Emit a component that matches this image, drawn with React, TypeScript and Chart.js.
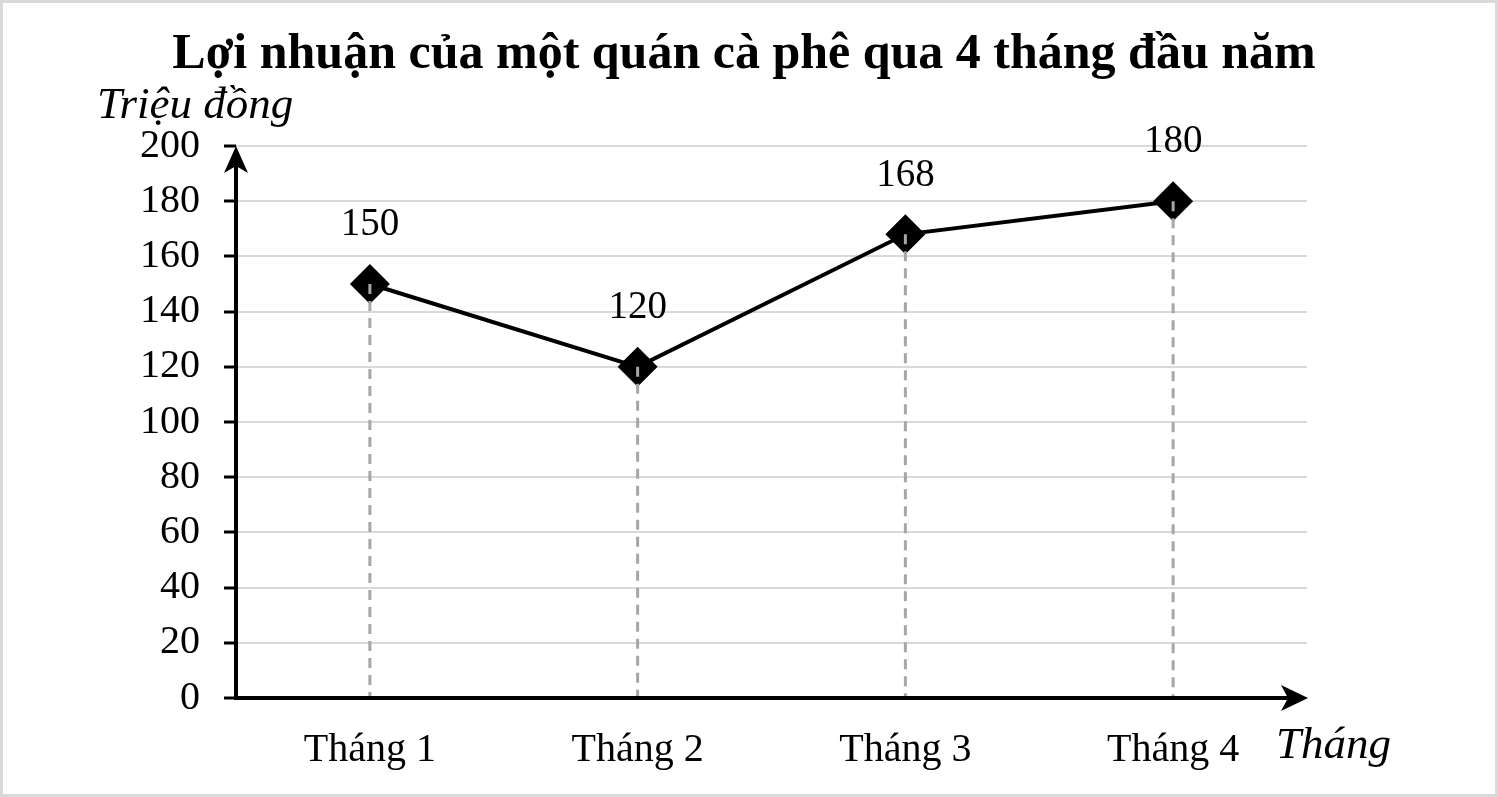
import React, { useEffect, useRef } from "react";
import { Chart, registerables } from "chart.js";

Chart.register(...registerables);

const categories = ["Tháng 1", "Tháng 2", "Tháng 3", "Tháng 4"];
const profits = [150, 120, 168, 180];
const chartTitle = "Lợi nhuận của một quán cà phê qua 4 tháng đầu năm";
const yAxisTitle = "Triệu đồng";
const xAxisTitle = "Tháng";

const FONT = "'Liberation Serif', 'Times New Roman', serif";

const decorPlugin = {
  id: "decor",
  beforeDraw(chart: any) {
    const ctx = chart.ctx;
    ctx.save();
    ctx.fillStyle = "#ffffff";
    ctx.fillRect(0, 0, chart.width, chart.height);
    ctx.restore();
  },
  afterDatasetsDraw(chart: any) {
    const ctx = chart.ctx;
    const { left, right, top, bottom } = chart.chartArea;
    const meta = chart.getDatasetMeta(0);
    ctx.save();
    // dashed drop lines
    ctx.strokeStyle = "#a6a6a6";
    ctx.lineWidth = 3;
    ctx.setLineDash([10, 7]);
    meta.data.forEach((pt: any) => {
      ctx.beginPath();
      ctx.moveTo(pt.x, pt.y);
      ctx.lineTo(pt.x, bottom);
      ctx.stroke();
    });
    ctx.setLineDash([]);
    // data labels
    ctx.fillStyle = "#000";
    ctx.font = `39px ${FONT}`;
    ctx.textAlign = "center";
    ctx.textBaseline = "middle";
    meta.data.forEach((pt: any, i: number) => {
      ctx.fillText(String(profits[i]), pt.x, pt.y - 59);
    });
    // axes
    ctx.strokeStyle = "#000";
    ctx.lineWidth = 4;
    ctx.beginPath();
    ctx.moveTo(left, bottom + 2);
    ctx.lineTo(left, top + 10);
    ctx.stroke();
    ctx.beginPath();
    ctx.moveTo(left - 2, bottom);
    ctx.lineTo(right - 10, bottom);
    ctx.stroke();
    // arrow heads
    ctx.fillStyle = "#000";
    ctx.beginPath();
    ctx.moveTo(left, top);
    ctx.lineTo(left + 12, top + 27);
    ctx.lineTo(left, top + 20);
    ctx.lineTo(left - 12, top + 27);
    ctx.closePath();
    ctx.fill();
    ctx.beginPath();
    ctx.moveTo(right + 1, bottom);
    ctx.lineTo(right - 26, bottom + 13);
    ctx.lineTo(right - 19, bottom);
    ctx.lineTo(right - 26, bottom - 13);
    ctx.closePath();
    ctx.fill();
    // titles
    ctx.textBaseline = "alphabetic";
    ctx.font = `bold 50px ${FONT}`;
    ctx.textAlign = "center";
    ctx.fillText(chartTitle, 744, 68);
    ctx.font = `italic 45px ${FONT}`;
    ctx.textAlign = "left";
    ctx.fillText(yAxisTitle, 97, 118);
    ctx.fillText(xAxisTitle, 1276, 758);
    // outer frame
    ctx.strokeStyle = "#d9d9d9";
    ctx.lineWidth = 3;
    ctx.strokeRect(1.5, 1.5, chart.width - 3, chart.height - 3);
    ctx.restore();
  },
};

export default function App() {
  const ref = useRef<HTMLCanvasElement | null>(null);
  useEffect(() => {
    if (!ref.current) return;
    const chart = new Chart(ref.current, {
      type: "line",
      data: {
        labels: categories,
        datasets: [
          {
            data: profits,
            borderColor: "#000",
            backgroundColor: "#000",
            borderWidth: 4,
            pointStyle: "rectRot",
            pointRadius: 20,
            pointHoverRadius: 20,
            pointBackgroundColor: "#000",
            pointBorderColor: "#000",
            pointBorderWidth: 0,
            tension: 0,
            clip: false,
          } as any,
        ],
      },
      options: {
        responsive: false,
        devicePixelRatio: 1,
        animation: false,
        events: [],
        layout: { padding: { top: 146, right: 191, left: 0, bottom: 0 } },
        plugins: {
          legend: { display: false },
          title: { display: false },
          tooltip: { enabled: false },
        },
        scales: {
          x: {
            type: "category",
            offset: true,
            grid: { display: false, drawTicks: false, tickLength: 0 },
            border: { display: false },
            ticks: {
              color: "#000",
              font: { family: FONT, size: 40 },
              padding: 28,
            },
            afterFit: (s: any) => {
              s.height = 99;
            },
          },
          y: {
            min: 0,
            max: 200,
            grid: {
              color: "#d9d9d9",
              lineWidth: 2,
              tickColor: "#000",
              tickWidth: 3,
              tickLength: 12,
            },
            border: { display: false },
            ticks: {
              stepSize: 20,
              color: "#000",
              font: { family: FONT, size: 40 },
              padding: 24,
            },
            afterFit: (s: any) => {
              s.width = 236;
            },
          },
        },
      },
      plugins: [decorPlugin],
    });
    return () => chart.destroy();
  }, []);
  return (
    <div style={{ position: "absolute", left: 0, top: 0, width: 1498, height: 797 }}>
      <canvas ref={ref} width={1498} height={797} />
    </div>
  );
}
